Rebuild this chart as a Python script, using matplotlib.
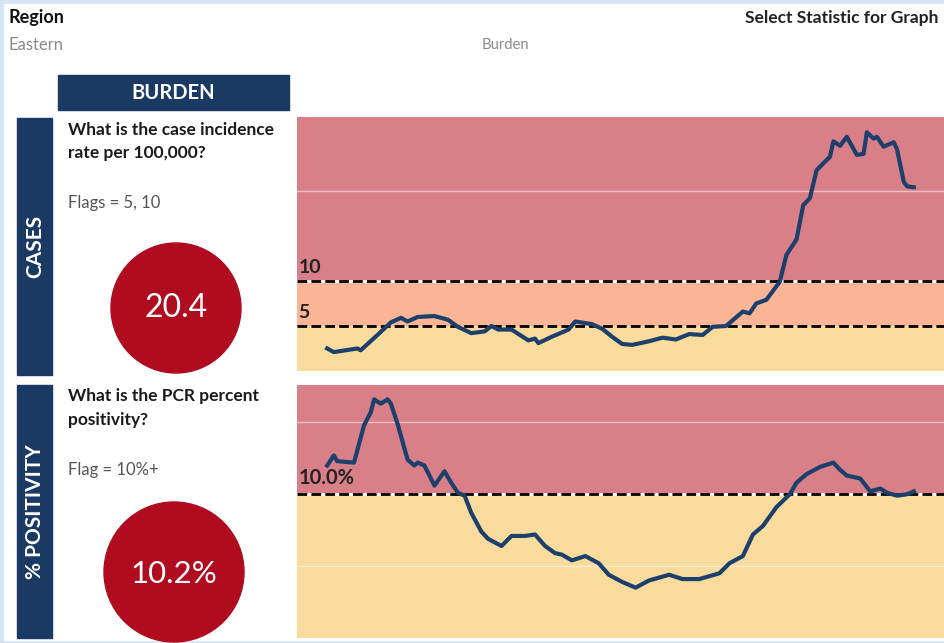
import matplotlib
matplotlib.use('Agg')
import matplotlib.pyplot as plt
from matplotlib.patches import Rectangle, Circle

plt.rcParams['font.family'] = ['Lato', 'DejaVu Sans']

# case incidence rate per 100,000 (day index, value)
case_days = [0, 2, 9, 10, 15, 19, 22, 24, 27, 32, 36, 39, 43, 47, 49, 51, 55, 60, 62, 63,
             67, 72, 74, 79, 82, 85, 88, 91, 96, 100, 104, 108, 112, 115, 119, 124, 126, 128,
             131, 135, 137, 140, 142, 144, 146, 150, 151, 153, 155, 158, 160, 161, 163, 164,
             166, 169, 170, 172, 173, 175]
case_vals = [2.5, 2.1, 2.5, 2.3, 4.0, 5.4, 5.9, 5.5, 6.0, 6.1, 5.7, 4.9, 4.2, 4.4, 5.0, 4.6,
             4.6, 3.4, 3.6, 3.1, 3.8, 4.6, 5.5, 5.2, 4.7, 3.8, 3.0, 2.9, 3.3, 3.7, 3.5, 4.1,
             4.0, 4.9, 5.0, 6.6, 6.4, 7.5, 7.9, 9.9, 12.9, 14.6, 18.4, 19.2, 22.3, 23.8, 25.5,
             25.0, 26.0, 24.0, 24.1, 26.5, 25.8, 26.0, 24.9, 25.4, 24.6, 21.0, 20.5, 20.4]

# PCR percent positivity
pos_days = [0, 2, 3, 8, 11, 13, 14, 16, 18, 19, 21, 24, 26, 27, 29, 32, 35, 37, 39, 41, 43,
            46, 48, 52, 55, 59, 62, 65, 68, 70, 73, 77, 81, 84, 88, 92, 96, 102, 106, 111,
            117, 120, 124, 127, 130, 134, 138, 140, 143, 147, 151, 153, 155, 159, 162, 165,
            167, 170, 173, 175]
pos_vals = [12.0, 12.7, 12.3, 12.2, 14.8, 15.7, 16.6, 16.3, 16.6, 16.3, 14.9, 12.4, 12.0,
            12.2, 12.0, 10.6, 11.6, 10.8, 10.1, 9.9, 8.7, 7.4, 6.9, 6.4, 7.1, 7.1, 7.2, 6.4,
            5.9, 5.8, 5.4, 5.7, 5.2, 4.4, 3.9, 3.5, 4.0, 4.4, 4.1, 4.1, 4.5, 5.2, 5.7, 7.2,
            7.8, 9.1, 10.0, 10.8, 11.4, 11.9, 12.2, 11.7, 11.3, 11.1, 10.2, 10.4, 10.1, 9.9,
            10.0, 10.2]

case_flags = [5, 10]
pos_flag = 10
case_now = '20.4'
pos_now = '10.2%'

RED = '#d87f88'
ORANGE = '#f9b596'
YELLOW = '#f9dc9d'
NAVY = '#1a3a64'
LINE = '#1d3f6c'
DARKRED = '#b00b1e'

W, H = 944, 643
fig = plt.figure(figsize=(W / 100, H / 100), dpi=100)
fig.patch.set_facecolor('#d3e4f4')

# overlay in pixel coords for the dashboard frame
bg = fig.add_axes([0, 0, 1, 1])
bg.set_xlim(0, W)
bg.set_ylim(H, 0)
bg.axis('off')
bg.add_patch(Rectangle((4, 4), W - 4, H - 7, color='white', zorder=0))


def px_axes(x0, y0, x1, y1):
    return fig.add_axes([x0 / W, 1 - y1 / H, (x1 - x0) / W, (y1 - y0) / H])


# --- cases chart ---
ax1 = px_axes(297, 117, W, 371)
ax1.set_xlim(-9, 184)
ax1.set_ylim(0, 28.2)
ax1.axhspan(0, case_flags[0], color=YELLOW, lw=0)
ax1.axhspan(case_flags[0], case_flags[1], color=ORANGE, lw=0)
ax1.axhspan(case_flags[1], 28.2, color=RED, lw=0)
ax1.axhline(20, color='white', lw=1, alpha=0.5)
ax1.axhline(case_flags[1], color='white', lw=2)
for f in case_flags:
    ax1.axhline(f, color='black', lw=2, dashes=(3.5, 1.5))
ax1.plot(case_days, case_vals, color=LINE, lw=3, solid_joinstyle='round')
for f in case_flags:
    ax1.text(-8.5, f + 0.6, str(f), fontsize=14, fontweight='bold', color='#222222', va='bottom')
ax1.axis('off')

# --- positivity chart ---
ax2 = px_axes(297, 385, W, 638)
ax2.set_xlim(-9, 184)
ax2.set_ylim(0, 17.6)
ax2.axhspan(0, pos_flag, color=YELLOW, lw=0)
ax2.axhspan(pos_flag, 17.6, color=RED, lw=0)
for g in [5, 15]:
    ax2.axhline(g, color='white', lw=1, alpha=0.5)
ax2.axhline(pos_flag, color='white', lw=2)
ax2.axhline(pos_flag, color='black', lw=2, dashes=(3.5, 1.5))
ax2.plot(pos_days, pos_vals, color=LINE, lw=3, solid_joinstyle='round')
ax2.text(-8.5, pos_flag + 0.45, '%.1f%%' % pos_flag, fontsize=14.5, fontweight='bold',
         color='#222222', va='bottom')
ax2.axis('off')

# --- header texts ---
bg.text(8, 18, 'Region', fontsize=13, fontweight='bold', color='#111111', va='center')
bg.text(8, 45, 'Eastern', fontsize=12, color='#8a8a8a', va='center')
bg.text(938, 18, 'Select Statistic for Graph', fontsize=12.5, fontweight='bold',
        color='#222222', va='center', ha='right')
bg.text(505, 45, 'Burden', fontsize=10.7, color='#8a8a8a', va='center', ha='center')

bg.add_patch(Rectangle((58, 75), 231, 35, color=NAVY))
bg.text(173, 93, 'BURDEN', fontsize=14.5, fontweight='bold', color='white',
        ha='center', va='center')

# side bars
bg.add_patch(Rectangle((17, 118), 35, 257, color=NAVY))
bg.text(35, 246, 'CASES', fontsize=15, fontweight='bold', color='white',
        rotation=90, ha='center', va='center')
bg.add_patch(Rectangle((17, 385), 35, 253, color=NAVY))
bg.text(35, 512, '% POSITIVITY', fontsize=15, fontweight='bold', color='white',
        rotation=90, ha='center', va='center')

# questions
bg.text(68, 130, 'What is the case incidence', fontsize=12.5, fontweight='bold',
        color='#1a1a1a', va='center')
bg.text(68, 153, 'rate per 100,000?', fontsize=12.5, fontweight='bold',
        color='#1a1a1a', va='center')
bg.text(68, 203, 'Flags = %d, %d' % tuple(case_flags), fontsize=12, color='#555555',
        va='center')
bg.text(68, 396, 'What is the PCR percent', fontsize=12.5, fontweight='bold',
        color='#1a1a1a', va='center')
bg.text(68, 420, 'positivity?', fontsize=12.5, fontweight='bold',
        color='#1a1a1a', va='center')
bg.text(68, 470, 'Flag = %d%%+' % pos_flag, fontsize=12, color='#555555', va='center')

# big value circles
bg.add_patch(Circle((176, 308), 65, color=DARKRED))
bg.text(176, 308, case_now, fontsize=23, color='white', ha='center', va='center')
bg.add_patch(Circle((174, 572), 70, color=DARKRED))
bg.text(174, 574, pos_now, fontsize=22.5, color='white', ha='center', va='center')

fig.savefig('out.png', dpi=100)
